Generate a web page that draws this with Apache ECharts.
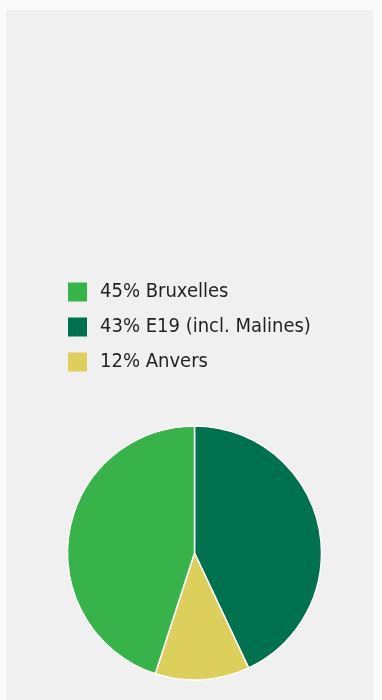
<!DOCTYPE html>
<html>
<head>
<meta charset="utf-8">
<script src="https://cdn.jsdelivr.net/npm/echarts@6/dist/echarts.min.js"></script>
<style>
  html, body { margin: 0; padding: 0; background: #fafafa; }
  #chart { width: 382px; height: 700px; }
</style>
</head>
<body>
<div id="chart"></div>
<script>
// legend order (top to bottom)
const legendOrder = ['Bruxelles', 'E19 (incl. Malines)', 'Anvers']
// pie order, clockwise from 12 o'clock
const regions = ['E19 (incl. Malines)', 'Anvers', 'Bruxelles']
const shares = [43, 12, 45]
const colors = ['#00714f', '#dccf5c', '#37b34a']

const chart = echarts.init(document.getElementById('chart'))

const pieData = regions.map((name, i) => ({
    name: name,
    value: shares[i],
    itemStyle: {color: colors[i]}
}))

chart.setOption({
    backgroundColor: '#fafafa',
    graphic: [{
        type: 'rect',
        z: -1,
        shape: {x: 6, y: 10, width: 367, height: 700},
        style: {fill: '#f0f0f0'}
    }],
    legend: {
        data: legendOrder,
        orient: 'vertical',
        left: 68,
        top: 282,
        padding: 0,
        itemWidth: 19,
        itemHeight: 19,
        itemGap: 15,
        icon: 'rect',
        itemStyle: {borderWidth: 0},
        textStyle: {
            fontFamily: '"DejaVu Sans Condensed", "Liberation Sans Narrow", Roboto, sans-serif',
            fontSize: 20,
            color: '#231f20',
            padding: [0, 0, 0, 8]
        },
        formatter: name => shares[regions.indexOf(name)] + '% ' + name
    },
    series: [{
        type: 'pie',
        center: [194.5, 553],
        radius: 127,
        startAngle: 90,
        clockwise: true,
        label: {show: false},
        labelLine: {show: false},
        emphasis: {disabled: true},
        itemStyle: {borderColor: '#ffffff', borderWidth: 1.5},
        data: pieData
    }]
})
</script>
</body>
</html>
